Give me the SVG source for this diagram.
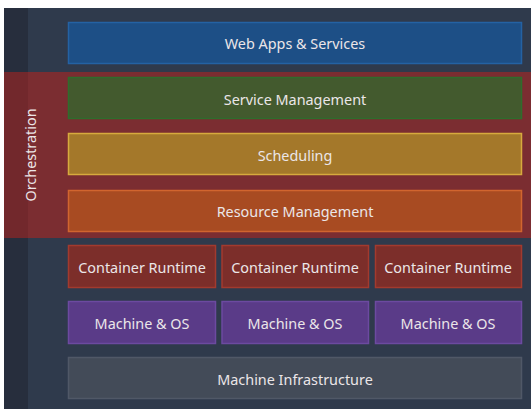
<svg xmlns="http://www.w3.org/2000/svg" width="531" height="409" viewBox="0 0 531 409">
  <style>
    .lbl { font-family: "Noto Sans", "Open Sans", sans-serif; font-size: 14.4px; fill: #ebe6e8; text-anchor: middle; dominant-baseline: central; }
    .web { fill: #1d4f86; stroke: #2462a3; stroke-width: 1.5; }
    .svc { fill: #435a2e; stroke: #2f6d2c; stroke-width: 1.5; }
    .sch { fill: #a4782a; stroke: #d7aa3e; stroke-width: 1.5; }
    .res { fill: #a84b22; stroke: #d1652f; stroke-width: 1.5; }
    .cr  { fill: #7c2e2a; stroke: #a23a2e; stroke-width: 1.5; }
    .mos { fill: #5a3b88; stroke: #6c4aa0; stroke-width: 1.5; }
    .inf { fill: #434b58; stroke: #505867; stroke-width: 1.5; }
  </style>
  <rect x="0" y="0" width="531" height="409" fill="#ffffff"/>
  <!-- background panel -->
  <rect x="4" y="8" width="527" height="401" fill="#2f3a4c"/>
  <rect x="4" y="8" width="24" height="401" fill="#272e3d"/>
  <!-- orchestration band -->
  <g id="orchestration">
    <rect x="4" y="72" width="527" height="166" fill="#7b2d31"/>
    <rect x="4" y="72" width="24" height="166" fill="#72282c"/>
    <text class="lbl" transform="translate(30 155) rotate(-90)">Orchestration</text>
  </g>
  <g id="web-apps">
    <rect class="web" x="68.5" y="22.5" width="453" height="41"/>
    <text class="lbl" x="295" y="43">Web Apps &amp; Services</text>
  </g>
  <g id="service-management">
    <rect class="svc" x="68.5" y="77.5" width="453" height="41"/>
    <text class="lbl" x="295" y="99">Service Management</text>
  </g>
  <g id="scheduling">
    <rect class="sch" x="68.5" y="133.5" width="453" height="41"/>
    <text class="lbl" x="295" y="155">Scheduling</text>
  </g>
  <g id="resource-management">
    <rect class="res" x="68.5" y="190.5" width="453" height="41"/>
    <text class="lbl" x="295" y="211">Resource Management</text>
  </g>
  <g id="container-runtime-1">
    <rect class="cr" x="68.5" y="245.5" width="147" height="42"/>
    <text class="lbl" x="142" y="267">Container Runtime</text>
  </g>
  <g id="container-runtime-2">
    <rect class="cr" x="222" y="245.5" width="146.5" height="42"/>
    <text class="lbl" x="295" y="267">Container Runtime</text>
  </g>
  <g id="container-runtime-3">
    <rect class="cr" x="375.5" y="245.5" width="146" height="42"/>
    <text class="lbl" x="448" y="267">Container Runtime</text>
  </g>
  <g id="machine-os-1">
    <rect class="mos" x="68.5" y="301.5" width="147" height="42"/>
    <text class="lbl" x="142" y="323">Machine &amp; OS</text>
  </g>
  <g id="machine-os-2">
    <rect class="mos" x="222" y="301.5" width="146.5" height="42"/>
    <text class="lbl" x="295" y="323">Machine &amp; OS</text>
  </g>
  <g id="machine-os-3">
    <rect class="mos" x="375.5" y="301.5" width="146" height="42"/>
    <text class="lbl" x="448" y="323">Machine &amp; OS</text>
  </g>
  <g id="machine-infrastructure">
    <rect class="inf" x="68.5" y="357.5" width="453" height="41"/>
    <text class="lbl" x="295" y="379">Machine Infrastructure</text>
  </g>
  <g id="connectors"/>
</svg>
